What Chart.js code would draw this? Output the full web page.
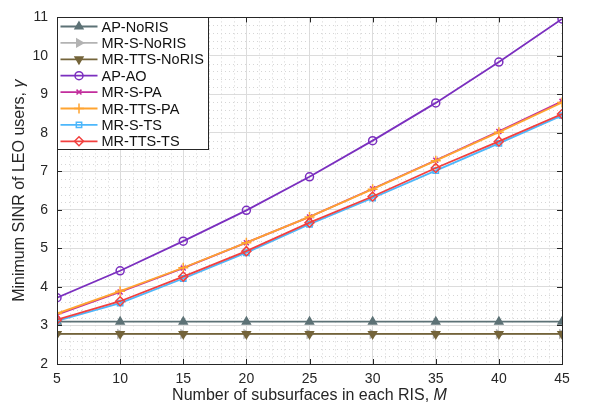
<!DOCTYPE html>
<html>
<head>
<meta charset="utf-8">
<script src="https://cdn.jsdelivr.net/npm/chart.js@4/dist/chart.umd.min.js"></script>
<style>
  html, body { margin: 0; padding: 0; background: #fff; }
  #wrap { width: 599px; height: 411px; }
</style>
</head>
<body>
<div id="wrap"><canvas id="c" width="599" height="411"></canvas></div>
<script>
// number of subsurfaces M
const xValues = [5, 10, 15, 20, 25, 30, 35, 40, 45];

const apNoRis    = [3.1, 3.1, 3.1, 3.1, 3.1, 3.1, 3.1, 3.1, 3.1];
const mrSNoRis   = [2.78, 2.78, 2.78, 2.78, 2.78, 2.78, 2.78, 2.78, 2.78];
const mrTtsNoRis = [2.78, 2.78, 2.78, 2.78, 2.78, 2.78, 2.78, 2.78, 2.78];
const apAo       = [3.72, 4.42, 5.19, 5.99, 6.86, 7.80, 8.78, 9.84, 10.96];
const mrSPa      = [3.28, 3.87, 4.49, 5.15, 5.82, 6.55, 7.29, 8.04, 8.82];
const mrTtsPa    = [3.31, 3.89, 4.50, 5.15, 5.82, 6.54, 7.28, 8.02, 8.79];
const mrSTs      = [3.12, 3.58, 4.22, 4.89, 5.63, 6.31, 7.02, 7.73, 8.45];
const mrTtsTs    = [3.15, 3.63, 4.27, 4.93, 5.67, 6.35, 7.09, 7.78, 8.49];

const yTicks = [2, 3, 4, 5, 6, 7, 8, 9, 10, 11];

const seriesInfo = [
  { label: 'AP-NoRIS',     data: apNoRis,    color: '#5d7276', style: 'triangle', rot: 0,   fill: true,  r: 4.5 },
  { label: 'MR-S-NoRIS',   data: mrSNoRis,   color: '#b3b3b3', style: 'triangle', rot: 90,  fill: true,  r: 4.5 },
  { label: 'MR-TTS-NoRIS', data: mrTtsNoRis, color: '#74643a', style: 'triangle', rot: 180, fill: true,  r: 4.5 },
  { label: 'AP-AO',        data: apAo,       color: '#7b2fbf', style: 'circle',   rot: 0,   fill: false, r: 4 },
  { label: 'MR-S-PA',      data: mrSPa,      color: '#c22d9c', style: 'crossRot', rot: 0,   fill: false, r: 3.5 },
  { label: 'MR-TTS-PA',    data: mrTtsPa,    color: '#ffa430', style: 'cross',    rot: 0,   fill: false, r: 5 },
  { label: 'MR-S-TS',      data: mrSTs,      color: '#4db7fb', style: 'rect',     rot: 0,   fill: false, r: 3.8 },
  { label: 'MR-TTS-TS',    data: mrTtsTs,    color: '#f2403f', style: 'rectRot',  rot: 0,   fill: false, r: 4.5 }
];

const FONT = '"Liberation Sans", Arial, Helvetica, sans-serif';
const TEXT = '#262626';

const datasets = seriesInfo.map((s, i) => ({
  label: s.label,
  data: s.data.map((v, k) => ({ x: xValues[k], y: v })),
  borderColor: s.color,
  backgroundColor: s.fill ? s.color : 'rgba(255,255,255,0)',
  pointBorderColor: s.color,
  pointBackgroundColor: s.fill ? s.color : 'rgba(255,255,255,0)',
  pointStyle: s.style,
  rotation: s.rot,
  pointRadius: s.r,
  pointBorderWidth: 1.5,
  borderWidth: 1.8,
  tension: 0,
  order: seriesInfo.length - i
}));

// dotted minor grid under the lines
const minorGrid = {
  id: 'minorGrid',
  beforeDatasetsDraw(chart) {
    const { ctx, chartArea: a, scales: { x, y } } = chart;
    ctx.save();
    ctx.strokeStyle = '#d6d6d6';
    ctx.lineWidth = 1;
    ctx.setLineDash([1, 3]);
    for (let v = 6; v < 45; v++) {
      if (v % 5 === 0) continue;
      const px = Math.round(x.getPixelForValue(v)) + 0.5;
      ctx.beginPath(); ctx.moveTo(px, a.top); ctx.lineTo(px, a.bottom); ctx.stroke();
    }
    for (let k = 1; k < 45; k++) {
      if (k % 5 === 0) continue;
      const py = Math.round(y.getPixelForValue(2 + k * 0.2)) + 0.5;
      ctx.beginPath(); ctx.moveTo(a.left, py); ctx.lineTo(a.right, py); ctx.stroke();
    }
    ctx.restore();
  }
};

function drawMarker(ctx, s, cx, cy) {
  Chart.helpers.drawPoint(ctx, {
    pointStyle: s.style, rotation: s.rot, radius: s.r, borderWidth: 1.5
  }, cx, cy);
}

// box, inward ticks, axis titles and legend
const frame = {
  id: 'frame',
  afterDatasetsDraw(chart) {
    const { ctx, chartArea: a, scales: { x, y } } = chart;
    ctx.save();
    ctx.strokeStyle = TEXT;
    ctx.lineWidth = 1;
    ctx.strokeRect(Math.round(a.left) + 0.5, Math.round(a.top) + 0.5,
      Math.round(a.right - a.left), Math.round(a.bottom - a.top));
    const tl = 5;
    ctx.beginPath();
    xValues.forEach(v => {
      const px = Math.round(x.getPixelForValue(v)) + 0.5;
      ctx.moveTo(px, a.bottom); ctx.lineTo(px, a.bottom - tl);
      ctx.moveTo(px, a.top); ctx.lineTo(px, a.top + tl);
    });
    yTicks.forEach(v => {
      const py = Math.round(y.getPixelForValue(v)) + 0.5;
      ctx.moveTo(a.left, py); ctx.lineTo(a.left + tl, py);
      ctx.moveTo(a.right, py); ctx.lineTo(a.right - tl, py);
    });
    ctx.stroke();

    // axis titles with italic symbols
    ctx.fillStyle = TEXT;
    ctx.textBaseline = 'middle';
    const fN = '16px ' + FONT, fI = 'italic 16px ' + FONT;
    const xt1 = 'Number of subsurfaces in each RIS, ', xt2 = 'M';
    ctx.font = fN; const w1 = ctx.measureText(xt1).width;
    ctx.font = fI; const w2 = ctx.measureText(xt2).width;
    let sx = (a.left + a.right) / 2 - (w1 + w2) / 2;
    ctx.font = fN; ctx.textAlign = 'left'; ctx.fillText(xt1, sx, 396);
    ctx.font = fI; ctx.fillText(xt2, sx + w1, 396);

    const yt1 = 'Minimum SINR of LEO users, ', yt2 = 'γ';
    ctx.font = fN; const v1 = ctx.measureText(yt1).width;
    ctx.font = fI; const v2 = ctx.measureText(yt2).width;
    ctx.translate(20, (a.top + a.bottom) / 2);
    ctx.rotate(-Math.PI / 2);
    sx = -(v1 + v2) / 2;
    ctx.font = fN; ctx.fillText(yt1, sx, 0);
    ctx.font = fI; ctx.fillText(yt2, sx + v1, 0);
    ctx.setTransform(1, 0, 0, 1, 0, 0);

    // legend
    const lx = Math.round(a.left) + 0.5, ly = Math.round(a.top) + 0.5;
    const lw = 151, lh = 132, rowH = 16.4;
    ctx.fillStyle = '#fff';
    ctx.fillRect(lx, ly, lw, lh);
    ctx.strokeStyle = TEXT;
    ctx.strokeRect(lx, ly, lw, lh);
    ctx.font = '14.5px ' + FONT;
    ctx.textAlign = 'left';
    seriesInfo.forEach((s, i) => {
      const cy = ly + 9 + i * rowH;
      ctx.strokeStyle = s.color;
      ctx.lineWidth = 1.8;
      ctx.beginPath(); ctx.moveTo(lx + 3, cy); ctx.lineTo(lx + 40, cy); ctx.stroke();
      ctx.fillStyle = s.fill ? s.color : 'rgba(255,255,255,0)';
      ctx.lineWidth = 1.5;
      drawMarker(ctx, s, lx + 21.5, cy);
      ctx.fillStyle = '#111';
      ctx.fillText(s.label, lx + 44, cy + 1);
    });
    ctx.restore();
  }
};

new Chart(document.getElementById('c'), {
  type: 'line',
  data: { datasets },
  plugins: [minorGrid, frame],
  options: {
    responsive: false,
    animation: false,
    layout: { padding: { top: 9, right: 37, left: 0, bottom: 0 } },
    plugins: { legend: { display: false }, tooltip: { enabled: false } },
    scales: {
      x: {
        type: 'linear', min: 5, max: 45,
        afterFit: sc => { sc.height = 47; },
        ticks: { stepSize: 5, padding: 7, color: TEXT, font: { family: FONT, size: 14 }, maxRotation: 0 },
        grid: { color: '#dcdcdc', lineWidth: 1, drawTicks: false },
        border: { display: false }
      },
      y: {
        type: 'linear', min: 2, max: 11,
        afterFit: sc => { sc.width = 57; },
        ticks: { stepSize: 1, padding: 9, color: TEXT, font: { family: FONT, size: 14 } },
        grid: { color: '#dcdcdc', lineWidth: 1, drawTicks: false },
        border: { display: false }
      }
    }
  }
});
</script>
</body>
</html>
